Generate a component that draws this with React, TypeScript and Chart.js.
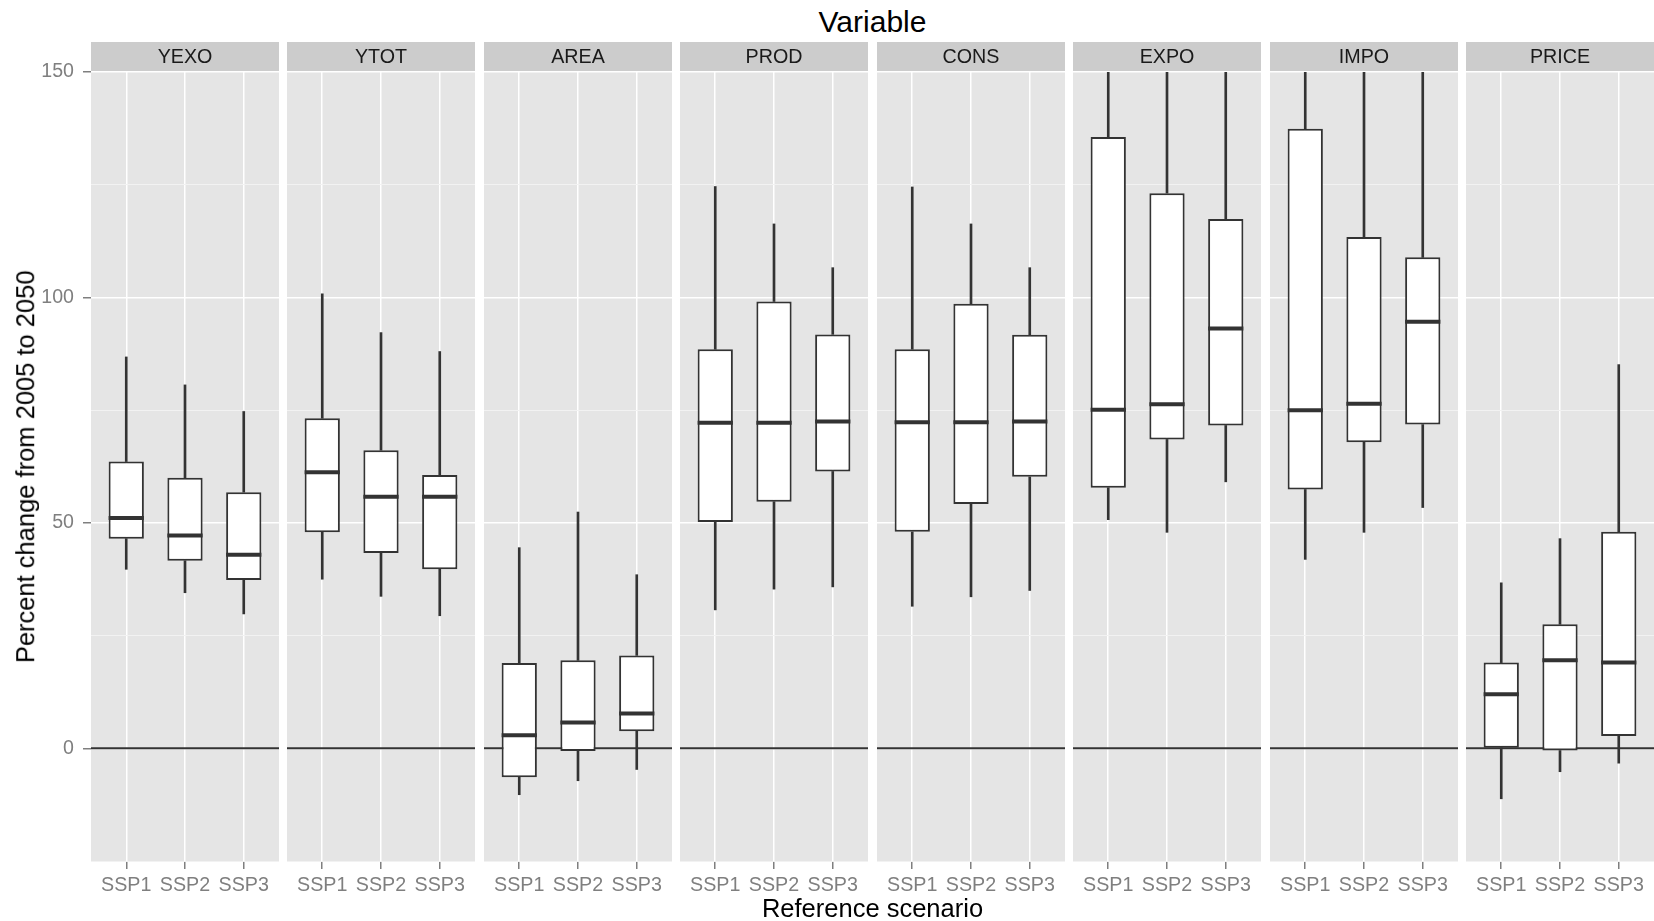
import React, { useEffect, useRef } from 'react';
import Chart from 'chart.js/auto';

// Facets and scenarios
const variables = ['YEXO', 'YTOT', 'AREA', 'PROD', 'CONS', 'EXPO', 'IMPO', 'PRICE'];
const scenarios = ['SSP1', 'SSP2', 'SSP3'];

// Box-plot statistics: one row per variable, one column per scenario (SSP1, SSP2, SSP3)
const whiskerLow: number[][] = [
  [39.7, 34.5, 29.8],
  [37.5, 33.7, 29.4],
  [-10.3, -7.2, -4.7],
  [30.7, 35.3, 35.8],
  [31.5, 33.6, 35.0],
  [50.7, 47.9, 59.1],
  [41.9, 47.9, 53.4],
  [-11.2, -5.2, -3.3],
];
const quartile1: number[][] = [
  [46.5, 41.6, 37.3],
  [47.9, 43.3, 39.7],
  [-6.4, -0.6, 3.8],
  [50.2, 54.7, 61.4],
  [48.0, 54.2, 60.2],
  [57.8, 68.5, 71.6],
  [57.4, 67.9, 71.8],
  [0.1, -0.5, 2.7],
];
const medians: number[][] = [
  [51.1, 47.2, 42.9],
  [61.2, 55.8, 55.8],
  [2.9, 5.7, 7.7],
  [72.2, 72.2, 72.5],
  [72.3, 72.3, 72.5],
  [75.1, 76.3, 93.1],
  [75.0, 76.4, 94.6],
  [12.0, 19.5, 19.0],
];
const quartile3: number[][] = [
  [63.6, 60.0, 56.8],
  [73.2, 66.1, 60.6],
  [18.9, 19.5, 20.6],
  [88.5, 99.1, 91.8],
  [88.5, 98.6, 91.7],
  [135.6, 123.1, 117.4],
  [137.4, 113.4, 108.9],
  [19.0, 27.5, 48.0],
];
const whiskerHigh: number[][] = [
  [86.8, 80.6, 74.7],
  [100.8, 92.2, 88.0],
  [44.5, 52.4, 38.5],
  [124.6, 116.3, 106.6],
  [124.5, 116.3, 106.6],
  [185, 180, 175],
  [190, 180, 175],
  [36.7, 46.5, 85.1],
];

const yMin = -25;
const yMax = 150;
const yStep = 25;
const yLabelEvery = 50;

const FONT = "'Liberation Sans', Arial, Helvetica, sans-serif";
const INK = '#333333';
const AXIS_GREY = '#7f7f7f';

// geometry of the facet grid
const FIRST_PANEL_LEFT = 91;
const PANEL_STEP = 196.47;
const PANEL_WIDTH = 188;
const Y_AXIS_WIDTH = 91;
const STRIP_TOP = 42;
const STRIP_HEIGHT = 30;
const PANEL_HEIGHT = 789;
const X_AXIS_HEIGHT = 39;

function Facet({ idx }: { idx: number }) {
  const ref = useRef<HTMLCanvasElement>(null);
  const first = idx === 0;
  const axisW = first ? Y_AXIS_WIDTH : 0;
  const left = Math.round(FIRST_PANEL_LEFT + idx * PANEL_STEP) - axisW;
  const width = PANEL_WIDTH + axisW;
  const height = STRIP_HEIGHT + PANEL_HEIGHT + X_AXIS_HEIGHT;

  useEffect(() => {
    const xs = scenarios.map((_, j) => j + 1);
    const isMajor = (c: any) => c.tick && c.tick.value % yLabelEvery === 0;

    const stripPlugin = {
      id: 'facetStrip',
      beforeDraw(chart: any) {
        const { ctx, chartArea: a } = chart;
        ctx.save();
        ctx.fillStyle = '#e5e5e5';
        ctx.fillRect(a.left, a.top, a.right - a.left, a.bottom - a.top);
        ctx.fillStyle = '#cccccc';
        ctx.fillRect(a.left, 0, a.right - a.left, a.top - 1);
        ctx.fillStyle = '#1a1a1a';
        ctx.font = `19.7px ${FONT}`;
        ctx.textAlign = 'center';
        ctx.textBaseline = 'middle';
        ctx.fillText(variables[idx], (a.left + a.right) / 2, (a.top - 1) / 2 + 1);
        ctx.restore();
      },
    };

    const chart = new Chart(ref.current as HTMLCanvasElement, {
      type: 'bar',
      data: {
        datasets: [
          {
            type: 'line',
            label: 'zero',
            data: [
              { x: 0.4, y: 0 },
              { x: 3.6, y: 0 },
            ],
            borderColor: INK,
            borderWidth: 2,
            pointRadius: 0,
            order: 10,
            clip: 0,
          } as any,
          {
            label: 'lower whisker',
            data: xs.map((x, j) => ({ x, y: [whiskerLow[idx][j], quartile1[idx][j]] })),
            backgroundColor: INK,
            borderWidth: 0,
            barThickness: 2,
            grouped: false,
            order: 5,
            clip: 0,
          },
          {
            label: 'upper whisker',
            data: xs.map((x, j) => ({ x, y: [quartile3[idx][j], whiskerHigh[idx][j]] })),
            backgroundColor: INK,
            borderWidth: 0,
            barThickness: 2,
            grouped: false,
            order: 5,
            clip: 0,
          },
          {
            label: 'box',
            data: xs.map((x, j) => ({ x, y: [quartile1[idx][j], quartile3[idx][j]] })),
            backgroundColor: '#ffffff',
            borderColor: INK,
            borderWidth: 2,
            borderSkipped: false,
            barPercentage: 0.6,
            categoryPercentage: 1,
            grouped: false,
            order: 3,
            clip: 0,
          },
          {
            type: 'scatter',
            label: 'median',
            data: xs.map((x, j) => ({ x, y: medians[idx][j] })),
            pointStyle: 'line',
            pointRadius: (c: any) => {
              const s = c.chart.scales.x;
              return s.getPixelForValue(1.3) - s.getPixelForValue(1);
            },
            pointBorderColor: INK,
            pointBorderWidth: 4,
            borderColor: INK,
            borderWidth: 4,
            order: 1,
            clip: 0,
          } as any,
        ] as any,
      },
      options: {
        animation: false,
        responsive: false,
        events: [],
        layout: { padding: { top: STRIP_HEIGHT, left: 0, right: 0, bottom: 0 } },
        plugins: {
          legend: { display: false },
          tooltip: { enabled: false },
          title: { display: false },
        },
        scales: {
          x: {
            type: 'linear',
            min: 0.4,
            max: 3.6,
            bounds: 'data',
            offset: false,
            afterBuildTicks: (s: any) => {
              s.ticks = xs.map((v) => ({ value: v }));
            },
            afterFit: (s: any) => {
              s.height = X_AXIS_HEIGHT;
            },
            grid: {
              offset: false,
              color: '#ffffff',
              lineWidth: 1.5,
              drawTicks: true,
              tickLength: 8,
              tickColor: AXIS_GREY,
              tickWidth: 1.5,
            },
            border: { display: false },
            ticks: {
              padding: 5,
              color: AXIS_GREY,
              font: { family: FONT, size: 19.7 },
              maxRotation: 0,
              autoSkip: false,
              callback: (v: any) => scenarios[Math.round(Number(v)) - 1] ?? '',
            },
          },
          y: {
            type: 'linear',
            min: yMin,
            max: yMax,
            afterFit: (s: any) => {
              s.width = axisW;
            },
            grid: {
              color: (c: any) => (isMajor(c) ? '#ffffff' : '#f2f2f2'),
              lineWidth: (c: any) => (isMajor(c) ? 1.5 : 1),
              drawTicks: first,
              tickLength: 8,
              tickColor: (c: any) => (isMajor(c) ? AXIS_GREY : 'rgba(0,0,0,0)'),
              tickWidth: 1.5,
            },
            border: { display: false },
            ticks: {
              display: first,
              stepSize: yStep,
              padding: 9,
              color: AXIS_GREY,
              font: { family: FONT, size: 19.6 },
              callback: (v: any) => (Number(v) % yLabelEvery === 0 ? String(v) : ''),
            },
          },
        },
      } as any,
      plugins: [stripPlugin],
    });
    return () => chart.destroy();
  }, [idx]);

  return (
    <canvas
      ref={ref}
      width={width}
      height={height}
      style={{ position: 'absolute', left, top: STRIP_TOP, width, height, display: 'block' }}
    />
  );
}

export default function App() {
  return (
    <div
      style={{
        position: 'absolute',
        left: 0,
        top: 0,
        width: 1654,
        height: 921,
        background: '#ffffff',
        fontFamily: FONT,
        overflow: 'hidden',
      }}
    >
      <div
        style={{
          position: 'absolute',
          left: FIRST_PANEL_LEFT,
          width: 1654 - FIRST_PANEL_LEFT,
          top: 7,
          textAlign: 'center',
          fontSize: 30,
          lineHeight: '30px',
          color: '#000000',
          whiteSpace: 'nowrap',
        }}
      >
        Variable
      </div>
      {variables.map((_, i) => (
        <Facet key={i} idx={i} />
      ))}
      <div
        style={{
          position: 'absolute',
          left: FIRST_PANEL_LEFT,
          width: 1654 - FIRST_PANEL_LEFT,
          top: 896,
          textAlign: 'center',
          fontSize: 25.5,
          lineHeight: '25px',
          color: '#000000',
          whiteSpace: 'nowrap',
        }}
      >
        Reference scenario
      </div>
      <div
        style={{
          position: 'absolute',
          left: 26 - 400,
          top: 466.5 - 12.8,
          width: 800,
          height: 25.6,
          textAlign: 'center',
          fontSize: 25.5,
          lineHeight: '25.6px',
          color: '#000000',
          whiteSpace: 'nowrap',
          transform: 'rotate(-90deg)',
          transformOrigin: '50% 50%',
        }}
      >
        Percent change from 2005 to 2050
      </div>
    </div>
  );
}
